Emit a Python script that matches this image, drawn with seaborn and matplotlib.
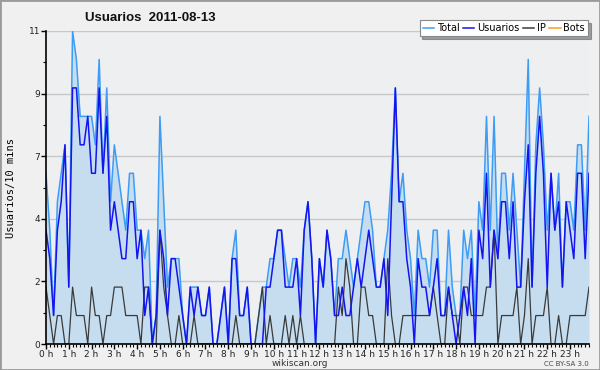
import numpy as np
import pandas as pd
import seaborn as sns
import matplotlib.pyplot as plt
from matplotlib.patches import Rectangle
from matplotlib.lines import Line2D

# values per 10-minute slot, 2011-08-13 (144 slots)
total = [6, 4, 1, 5, 6, 7, 2, 11, 10, 8, 8, 8,
         8, 7, 10, 6, 9, 5, 7, 6, 5, 4, 6, 6,
         4, 4, 3, 4, 0, 1, 8, 5, 2, 3, 3, 3,
         1, 0, 2, 2, 2, 1, 1, 2, 0, 0, 1, 2,
         0, 3, 4, 1, 1, 2, 0, 0, 1, 2, 2, 3,
         3, 4, 4, 3, 2, 3, 3, 2, 4, 5, 3, 0,
         3, 2, 4, 3, 1, 3, 3, 4, 3, 2, 3, 4,
         5, 5, 4, 2, 2, 3, 4, 6, 9, 5, 6, 4,
         3, 1, 4, 3, 3, 2, 4, 4, 1, 1, 4, 2,
         1, 1, 4, 3, 4, 1, 5, 4, 8, 4, 8, 3,
         6, 6, 4, 6, 4, 2, 6, 10, 2, 7, 9, 7,
         4, 6, 4, 6, 2, 5, 5, 4, 7, 7, 4, 8]
usuarios = [4, 3, 1, 4, 5, 7, 2, 9, 9, 7, 7, 8,
            6, 6, 9, 6, 8, 4, 5, 4, 3, 3, 5, 5,
            3, 4, 1, 2, 0, 1, 4, 3, 1, 3, 3, 2,
            1, 0, 2, 1, 2, 1, 1, 2, 0, 0, 1, 2,
            0, 3, 3, 1, 1, 2, 0, 0, 0, 0, 2, 2,
            3, 4, 4, 2, 2, 2, 3, 1, 4, 5, 3, 0,
            3, 2, 4, 3, 1, 1, 2, 1, 1, 2, 3, 2,
            3, 4, 3, 2, 2, 3, 1, 5, 9, 5, 5, 3,
            2, 0, 3, 2, 2, 1, 2, 3, 1, 1, 2, 1,
            0, 1, 2, 1, 3, 0, 4, 3, 6, 2, 4, 3,
            5, 5, 3, 5, 2, 2, 5, 7, 2, 6, 8, 6,
            2, 6, 4, 5, 2, 5, 4, 3, 6, 6, 3, 6]
ip = [2, 1, 0, 1, 1, 0, 0, 2, 1, 1, 1, 0,
      2, 1, 1, 0, 1, 1, 2, 2, 2, 1, 1, 1,
      1, 0, 2, 2, 0, 0, 4, 2, 1, 0, 0, 1,
      0, 0, 0, 1, 0, 0, 0, 0, 0, 0, 0, 0,
      0, 0, 1, 0, 0, 0, 0, 0, 1, 2, 0, 1,
      0, 0, 0, 1, 0, 1, 0, 1, 0, 0, 0, 0,
      0, 0, 0, 0, 0, 2, 1, 3, 2, 0, 0, 2,
      2, 1, 1, 0, 0, 0, 3, 1, 0, 0, 1, 1,
      1, 1, 1, 1, 1, 1, 2, 1, 0, 0, 2, 1,
      1, 0, 2, 2, 1, 1, 1, 1, 2, 2, 4, 0,
      1, 1, 1, 1, 2, 0, 1, 3, 0, 1, 1, 1,
      2, 0, 0, 1, 0, 0, 1, 1, 1, 1, 1, 2]
bots = [0] * 144
hour_labels = [f"{h} h" for h in range(24)]
ytick_labels = ['0', '2', '4', '7', '9', '11']

df = pd.DataFrame({'slot': np.arange(len(total)), 'Total': total,
                   'Usuarios': usuarios, 'IP': ip, 'Bots': bots})

colors = {'Total': '#3d9cf5', 'Usuarios': '#1414f0', 'IP': '#3a3a3a', 'Bots': '#ff9c1a'}

fig = plt.figure(figsize=(6, 3.7), dpi=100, facecolor='#f0f0f0')
ax = fig.add_axes([46 / 600, 1 - 344 / 370, 543 / 600, 313 / 370])
ax.set_facecolor('#eeeff1')

ax.fill_between(df['slot'], df['Total'], color='#c6ddf0', zorder=1, lw=0)
sns.lineplot(data=df, x='slot', y='Bots', color=colors['Bots'], lw=1, ax=ax, zorder=1.5)
sns.lineplot(data=df, x='slot', y='Total', color=colors['Total'], lw=1.1, ax=ax, zorder=3)
sns.lineplot(data=df, x='slot', y='Usuarios', color=colors['Usuarios'], lw=1.1, ax=ax, zorder=4)
sns.lineplot(data=df, x='slot', y='IP', color=colors['IP'], lw=0.9, ax=ax, zorder=3.5)

ax.set_xlim(0, 143)
ax.set_ylim(0, 11)

ax.set_xticks(np.arange(0, 144, 6))
ax.set_xticklabels(hour_labels)
ax.set_xticks(np.arange(0, 144), minor=True)
ax.set_yticks([0, 2.2, 4.4, 6.6, 8.8, 11])
ax.set_yticklabels(ytick_labels)
ax.set_yticks(np.arange(0, 11.01, 1.1), minor=True)
ax.tick_params(axis='both', which='major', labelsize=6.5, length=3.5, width=1,
               color='black', labelcolor='#222222', pad=0.5)
ax.tick_params(axis='both', which='minor', length=2.5, width=0.8)
ax.yaxis.grid(True, color='#c8c8c8', lw=1)
ax.set_axisbelow(True)

for side in ['top', 'right']:
    ax.spines[side].set_visible(False)
for side in ['left', 'bottom']:
    ax.spines[side].set_linewidth(1.2)
    ax.spines[side].set_zorder(5)

ax.set_xlabel('')
ax.set_ylabel('Usuarios/10 mins', family='DejaVu Sans Mono', fontsize=7.5)
ax.yaxis.set_label_coords(-30 / 543, 0.5)

fig.text(85 / 600, 1 - 18 / 370, 'Usuarios  2011-08-13', fontsize=9.5, weight='bold',
         family='Liberation Sans', va='center', ha='left', color='#111111')

handles = [Line2D([], [], color=colors[k], lw=1.1) for k in ['Total', 'Usuarios', 'IP', 'Bots']]
leg = fig.legend(handles, ['Total', 'Usuarios', 'IP', 'Bots'], ncol=4,
                 loc='upper right', bbox_to_anchor=(588 / 600, 1 - 20 / 370),
                 fontsize=7, frameon=True, fancybox=False, shadow=True,
                 handlelength=1.2, handletextpad=0.3, columnspacing=0.3,
                 borderpad=0.3, borderaxespad=0)
leg.get_frame().set_edgecolor('#888888')
leg.get_frame().set_linewidth(0.8)
leg.get_frame().set_facecolor('white')

fig.text(300 / 600, 1 - 363 / 370, 'wikiscan.org', fontsize=6.5, ha='center', va='center',
         color='#333333')
fig.text(589 / 600, 1 - 364 / 370, 'CC BY-SA 3.0', fontsize=5, ha='right', va='center',
         color='#444444')

fig.patches.append(Rectangle((0, 0), 1, 1, transform=fig.transFigure, fill=False,
                             edgecolor='#9a9a9a', lw=2))

fig.savefig('out.png', dpi=100, facecolor=fig.get_facecolor())
